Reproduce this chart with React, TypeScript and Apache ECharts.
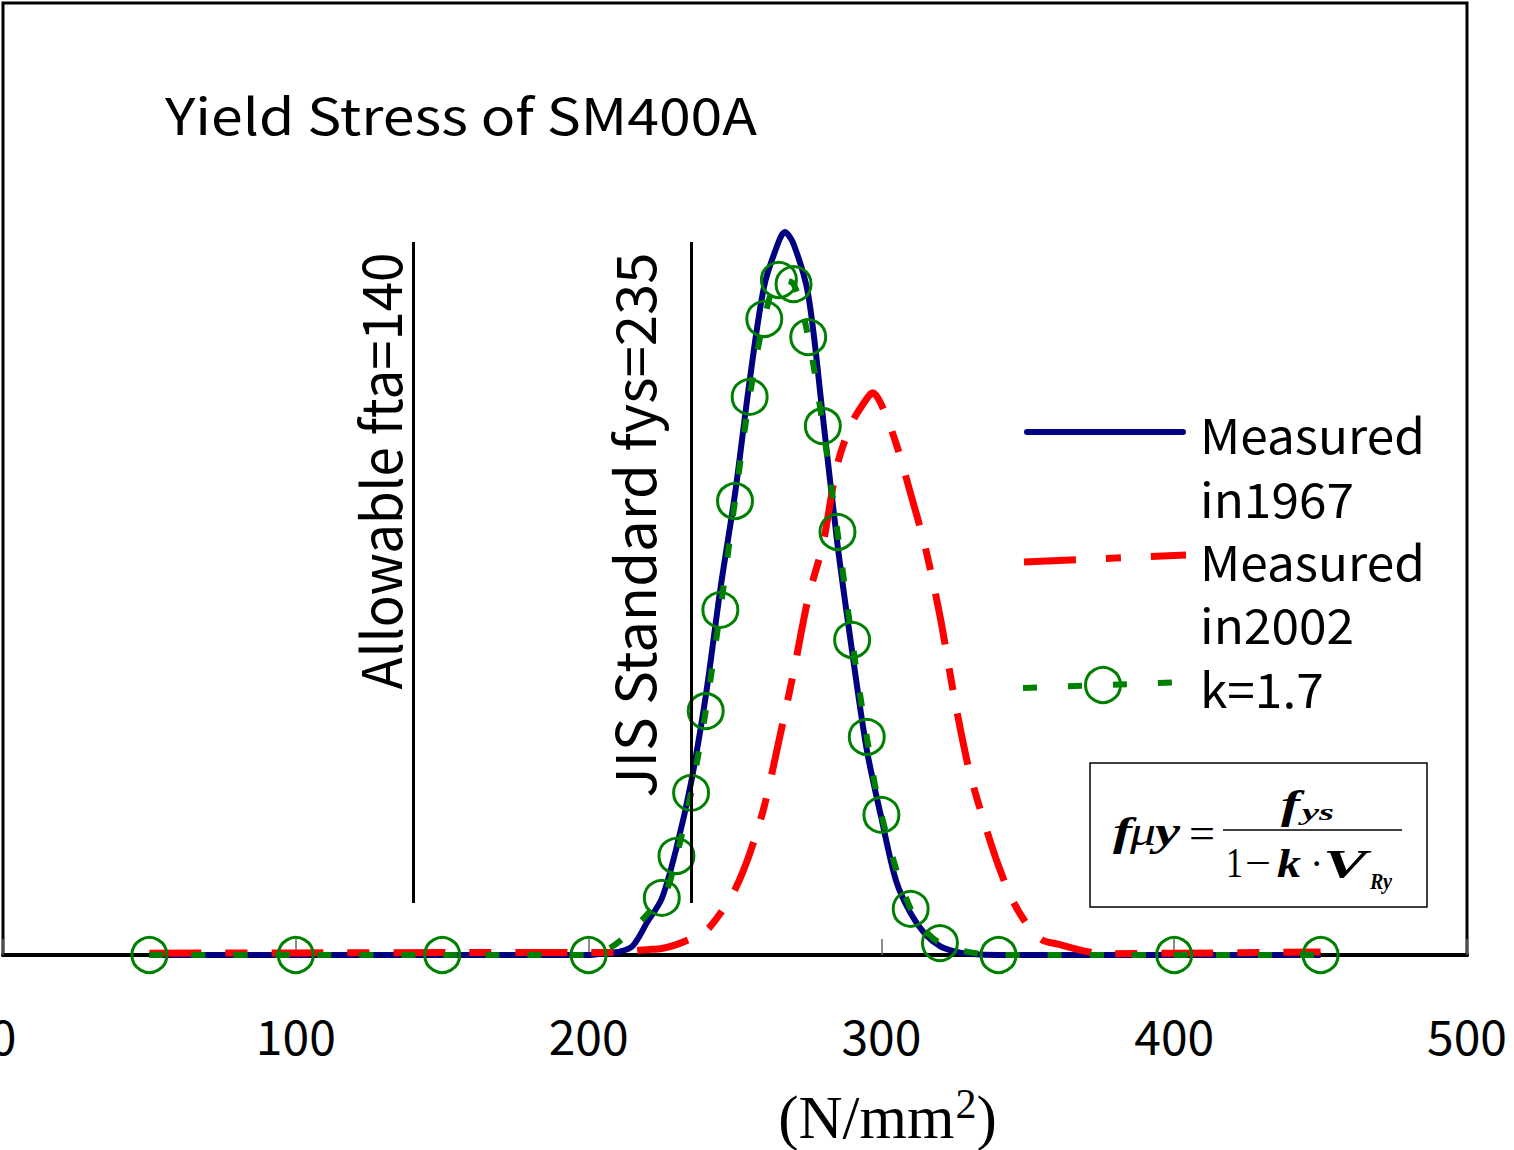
import React, { useEffect, useRef } from 'react';
import * as echarts from 'echarts';

// Yield stress distribution of SM400A steel (relative frequency, arbitrary density units)
const xTicks = [0, 100, 200, 300, 400, 500];

const measured1967X = [50, 100, 150, 200, 205, 210, 215, 220, 225, 230, 235, 240, 245, 250, 255, 260, 265, 267, 270, 275, 280, 285, 290, 295, 300, 305, 310, 315, 320, 325, 330, 340, 400, 450];
const measured1967Y = [0, 0, 0, 0, 0.005, 0.01, 0.03, 0.11, 0.19, 0.36, 0.58, 0.87, 1.23, 1.55, 1.93, 2.25, 2.40, 2.43, 2.39, 2.22, 1.81, 1.38, 1.02, 0.69, 0.46, 0.25, 0.14, 0.07, 0.03, 0.012, 0.004, 0, 0, 0];

const measured2002X = [50, 100, 150, 200, 205, 210, 215, 220, 225, 230, 235, 240, 245, 250, 255, 260, 265, 270, 275, 280, 285, 290, 295, 297, 300, 305, 310, 315, 320, 325, 330, 335, 340, 345, 350, 355, 360, 365, 370, 375, 400, 450];
const measured2002Y = [0.006, 0.007, 0.008, 0.008, 0.008, 0.01, 0.014, 0.018, 0.022, 0.035, 0.055, 0.08, 0.14, 0.22, 0.34, 0.5, 0.72, 0.95, 1.2, 1.38, 1.65, 1.79, 1.87, 1.89, 1.85, 1.72, 1.55, 1.37, 1.14, 0.86, 0.62, 0.45, 0.3, 0.18, 0.1, 0.05, 0.037, 0.024, 0.012, 0.004, 0.006, 0.01];

const k17X = [50, 100, 150, 200, 225, 230, 235, 240, 245, 250, 255, 260, 265, 270, 275, 280, 285, 290, 295, 300, 310, 320, 340, 400, 450];
const k17Y = [0, 0, 0, 0, 0.192, 0.333, 0.545, 0.82, 1.16, 1.526, 1.876, 2.138, 2.269, 2.255, 2.077, 1.778, 1.422, 1.059, 0.733, 0.471, 0.155, 0.04, 0, 0, 0];

const allowableFta = 140;
const jisFys = 235;
const refLineBottom = 0.175;
const refLineTop = 2.397;

const W = 1514;
const H = 1150;

const SANS = '"Noto Sans CJK JP", "Noto Sans", sans-serif';
const SERIF = '"Liberation Serif", "DejaVu Serif", serif';

const NAVY = '#000080';
const RED = '#ff0000';
const GREEN = '#008000';

const pairs = (xs: number[], ys: number[]) => xs.map((x, i) => [x, ys[i]]);

let measureCtx: CanvasRenderingContext2D | null = null;
function textWidth(text: string, font: string): number {
  if (!measureCtx) measureCtx = document.createElement('canvas').getContext('2d');
  measureCtx!.font = font;
  return measureCtx!.measureText(text).width;
}

type TextOpts = {
  size: number;
  family?: string;
  weight?: string;
  style?: string;
  align?: 'left' | 'center' | 'right';
  width?: number; // desired drawn width; stretches glyphs horizontally
  rotation?: number;
};

const fontOf = (o: TextOpts) =>
  `${o.style || 'normal'} ${o.weight || 'normal'} ${o.size}px ${o.family || SANS}`;

// A text element placed at (x, y) with its vertical middle on y.
function label(text: string, x: number, y: number, o: TextOpts) {
  const family = o.family || SANS;
  const weight = o.weight || 'normal';
  const fstyle = o.style || 'normal';
  const font = fontOf(o);
  let sx = 1;
  if (o.width) {
    const w = textWidth(text, font);
    if (w > 0) sx = o.width / w;
  }
  const align = o.align || 'left';
  return {
    type: 'text',
    x,
    y,
    scaleX: sx,
    rotation: o.rotation || 0,
    silent: true,
    style: {
      text,
      fill: '#000',
      fontSize: o.size,
      fontFamily: family,
      fontWeight: weight,
      fontStyle: fstyle,
      font,
      textAlign: align,
      align,
      textVerticalAlign: 'middle',
      verticalAlign: 'middle',
    },
  };
}

function buildGraphics() {
  const els: any[] = [];

  // Title and reference-line captions
  els.push(label('Yield Stress of SM400A', 165, 113, { size: 50, width: 592 }));
  els.push(label('Allowable fta=140', 378, 471, { size: 55, align: 'center', width: 437, rotation: Math.PI / 2 }));
  els.push(label('JIS Standard fys=235', 632, 525, { size: 55, align: 'center', width: 545, rotation: Math.PI / 2 }));

  // Legend
  els.push({
    type: 'line', silent: true,
    shape: { x1: 1027, y1: 432, x2: 1183, y2: 432 },
    style: { stroke: NAVY, lineWidth: 6, lineCap: 'round' },
  });
  els.push({
    type: 'line', silent: true,
    shape: { x1: 1024, y1: 562, x2: 1186, y2: 555 },
    style: { stroke: RED, lineWidth: 7, lineDash: [52, 30, 15, 30] },
  });
  els.push({
    type: 'line', silent: true,
    shape: { x1: 1023, y1: 688, x2: 1186, y2: 682 },
    style: { stroke: GREEN, lineWidth: 6, lineDash: [14, 31] },
  });
  els.push({
    type: 'circle', silent: true,
    shape: { cx: 1103, cy: 685, r: 17.5 },
    style: { fill: 'none', stroke: GREEN, lineWidth: 3 },
  });
  const legendScale = (() => {
    const w = textWidth('Measured', fontOf({ size: 48 }));
    return w > 0 ? 225 / w : 1;
  })();
  const legendText = (t: string, y: number) => {
    const e: any = label(t, 1200, y, { size: 48 });
    e.scaleX = legendScale;
    return e;
  };
  els.push(legendText('Measured', 433));
  els.push(legendText('in1967', 497));
  els.push(legendText('Measured', 560));
  els.push(legendText('in2002', 623));
  els.push(legendText('k=1.7', 687));

  // Formula box: fμy = f_ys / (1 − k·V_Ry)
  els.push({
    type: 'rect', silent: true,
    shape: { x: 1090, y: 763, width: 337, height: 144 },
    style: { fill: '#fff', stroke: '#000', lineWidth: 1.5 },
  });
  const fs = 40;
  const sub = 24;
  const mid = (base: number, size: number) => base - 0.34 * size;
  const bi = { weight: 'bold', style: 'italic', family: SERIF };
  const it = { style: 'italic', family: SERIF };
  els.push(label('f', 1113, mid(845, fs), { size: fs, ...bi, width: 19 }));
  els.push(label('μ', 1130, mid(845, fs), { size: fs, ...it, width: 26 }));
  els.push(label('y', 1155, mid(845, fs), { size: fs, ...bi, width: 25 }));
  els.push(label('=', 1189, mid(849, 46), { size: 46, family: SERIF, width: 26 }));
  els.push({
    type: 'line', silent: true,
    shape: { x1: 1223, y1: 830, x2: 1402, y2: 830 },
    style: { stroke: '#000', lineWidth: 1.5 },
  });
  els.push(label('f', 1281, mid(818, fs), { size: fs, ...bi, width: 19 }));
  els.push(label('ys', 1302, mid(820, sub), { size: sub, ...bi, width: 32 }));
  els.push(label('1', 1226, mid(877, 42), { size: 42, family: SERIF, width: 17 }));
  els.push(label('−', 1245, mid(877, 42), { size: 42, family: SERIF, width: 26 }));
  els.push(label('k', 1277, mid(877, fs), { size: fs, ...bi, width: 24 }));
  els.push(label('·', 1310, mid(877, fs), { size: fs, family: SERIF }));
  els.push(label('V', 1323, mid(877, fs), { size: fs, ...bi, width: 44 }));
  els.push(label('Ry', 1370, mid(889, sub), { size: sub, ...bi, width: 22 }));

  // Axis unit "(N/mm²)" with a raised 2
  const unitMain: TextOpts = { size: 61, family: SERIF };
  const unitSup: TextOpts = { size: 42, family: SERIF };
  const w1 = textWidth('(N/mm', fontOf(unitMain));
  const w2 = textWidth('2', fontOf(unitSup));
  const w3 = textWidth(')', fontOf(unitMain));
  const ux = 887 - (w1 + w2 + w3) / 2;
  els.push(label('(N/mm', ux, 1117, unitMain));
  els.push(label('2', ux + w1 + 1, 1104, unitSup));
  els.push(label(')', ux + w1 + w2 + 1, 1117, unitMain));

  return els;
}

export default function App() {
  const ref = useRef<HTMLDivElement>(null);

  useEffect(() => {
    if (!ref.current) return;
    const chart = echarts.init(ref.current, undefined, { renderer: 'svg' });

    const option: any = {
      animation: false,
      backgroundColor: '#fff',
      grid: {
        left: 3, right: 47, top: 3, bottom: 195,
        containLabel: false,
        outerBoundsMode: 'none',
        show: true, borderColor: '#000', borderWidth: 3, backgroundColor: 'transparent',
      },
      xAxis: {
        type: 'value',
        min: xTicks[0],
        max: xTicks[xTicks.length - 1],
        interval: xTicks[1] - xTicks[0],
        axisLine: { show: true, onZero: false, lineStyle: { color: '#000', width: 4 } },
        axisTick: { show: true, inside: true, length: 16, lineStyle: { color: '#666', width: 1.5 } },
        splitLine: { show: false },
        axisLabel: { color: '#000', fontFamily: SANS, fontSize: 48, margin: 55 },
      },
      yAxis: {
        type: 'value',
        min: 0,
        max: 3.2,
        show: false,
        splitLine: { show: false },
      },
      series: [
        {
          name: 'Measured in1967',
          type: 'line',
          data: pairs(measured1967X, measured1967Y),
          smooth: 0.3,
          showSymbol: false,
          symbol: 'none',
          clip: false,
          lineStyle: { color: NAVY, width: 6 },
          z: 2,
          markLine: {
            silent: true,
            symbol: ['none', 'none'],
            label: { show: false },
            lineStyle: { color: '#000', width: 3, type: 'solid' },
            data: [
              [{ coord: [allowableFta, refLineBottom] }, { coord: [allowableFta, refLineTop] }],
              [{ coord: [jisFys, refLineBottom] }, { coord: [jisFys, refLineTop] }],
            ],
          },
        },
        {
          name: 'Measured in2002',
          type: 'line',
          data: pairs(measured2002X, measured2002Y),
          smooth: 0.3,
          showSymbol: false,
          symbol: 'none',
          clip: false,
          lineStyle: { color: RED, width: 7, type: [52, 24, 22, 24] },
          z: 3,
        },
        {
          name: 'k=1.7',
          type: 'line',
          data: pairs(k17X, k17Y),
          smooth: 0.3,
          symbol: 'circle',
          symbolSize: 35,
          showSymbol: true,
          clip: false,
          lineStyle: { color: GREEN, width: 6, type: [14, 28] },
          itemStyle: { color: 'rgba(0,0,0,0)', borderColor: GREEN, borderWidth: 3 },
          z: 4,
        },
      ],
      graphic: buildGraphics(),
    };

    chart.setOption(option);
    return () => chart.dispose();
  }, []);

  return (
    <div
      ref={ref}
      style={{ position: 'absolute', left: 0, top: 0, width: W, height: H, background: '#fff' }}
    />
  );
}
